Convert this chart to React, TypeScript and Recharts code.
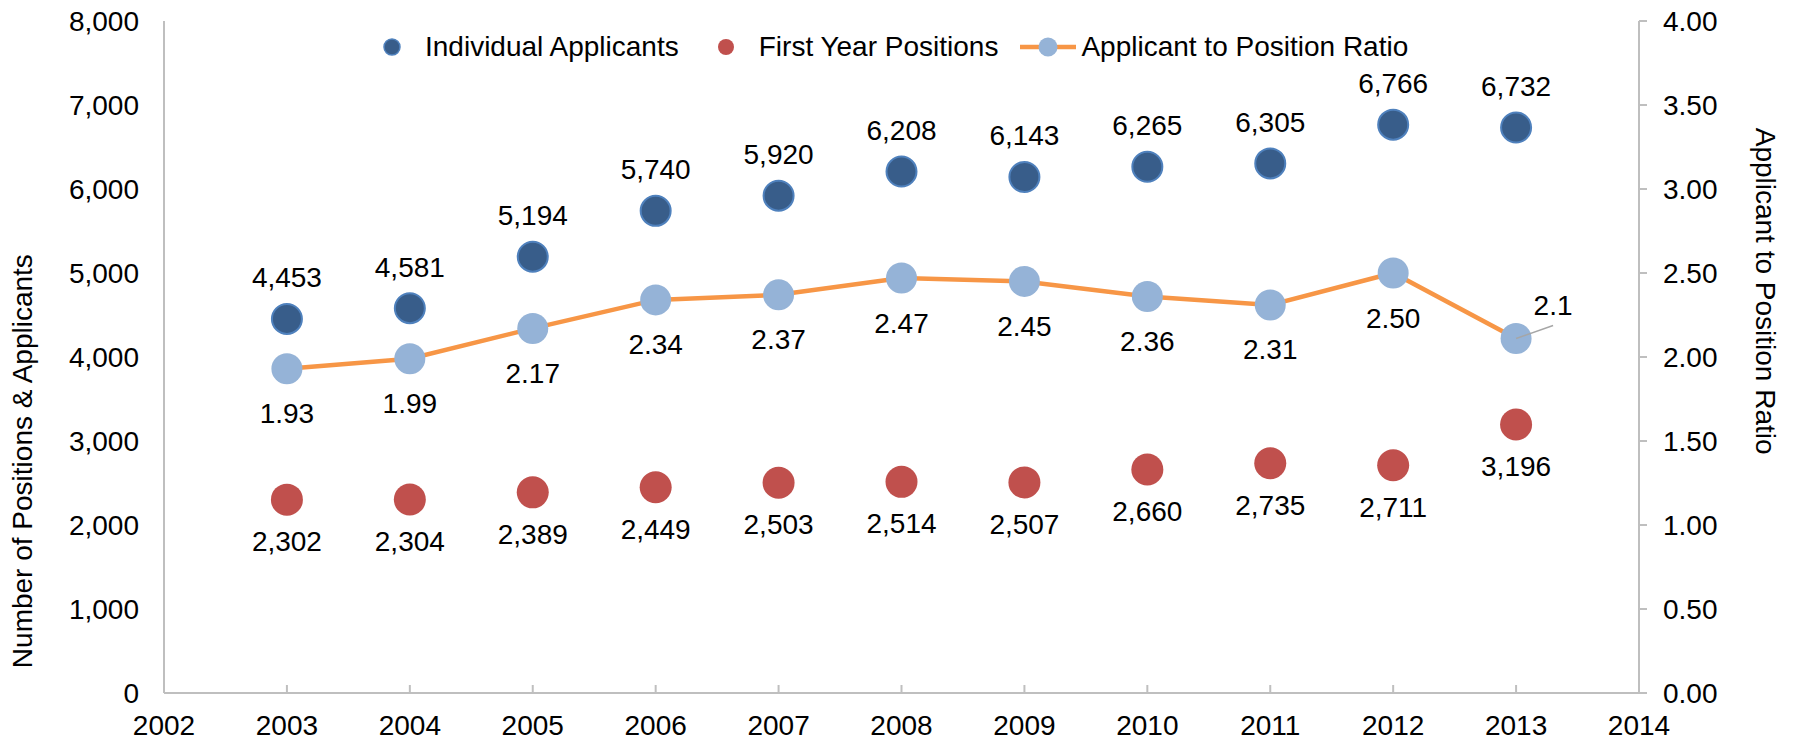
import { ComposedChart, Line, XAxis, YAxis, Legend, LabelList } from "recharts";

const years = [2003, 2004, 2005, 2006, 2007, 2008, 2009, 2010, 2011, 2012, 2013];
const applicants = [4453, 4581, 5194, 5740, 5920, 6208, 6143, 6265, 6305, 6766, 6732];
const positions = [2302, 2304, 2389, 2449, 2503, 2514, 2507, 2660, 2735, 2711, 3196];
const ratio = [1.93, 1.99, 2.17, 2.34, 2.37, 2.47, 2.45, 2.36, 2.31, 2.5, 2.11];
const ratioLabels = ["1.93", "1.99", "2.17", "2.34", "2.37", "2.47", "2.45", "2.36", "2.31", "2.50", "2.1"];

const yearTicks = [2002, 2003, 2004, 2005, 2006, 2007, 2008, 2009, 2010, 2011, 2012, 2013, 2014];
const countTicks = [0, 1000, 2000, 3000, 4000, 5000, 6000, 7000, 8000];
const ratioTicks = [0, 0.5, 1, 1.5, 2, 2.5, 3, 3.5, 4];

const FONT = '"Liberation Sans", Arial, sans-serif';
const FS = 28;
const AXIS = "#BFBFBF";
const BLUE = "#385D8A";
const BLUE_EDGE = "#4F81BD";
const RED = "#C0504D";
const LIGHT = "#95B3D7";
const ORANGE = "#F79646";
const X_TICK = 8;
const X_GAP = 14;

const data = years.map((year, i) => ({
  year,
  applicants: applicants[i],
  positions: positions[i],
  ratio: ratio[i],
}));

// x labels sit below the axis, tick marks point up into the plot
function YearTick(props: any) {
  const { x, y, payload } = props;
  const inner = payload.value > yearTicks[0] && payload.value < yearTicks[yearTicks.length - 1];
  const axisY = y - X_TICK - X_GAP;
  return (
    <g>
      {inner && <line x1={x} x2={x} y1={axisY} y2={axisY - X_TICK} stroke={AXIS} strokeWidth={2} />}
      <text x={x} y={y} dy="0.71em" textAnchor="middle" fontSize={FS} fill="#000">
        {payload.value}
      </text>
    </g>
  );
}

function LeftTitle(props: any) {
  const { x, y, height } = props.viewBox;
  const cx = x + 23;
  const cy = y + height * 0.655;
  return (
    <text x={cx} y={cy} transform={`rotate(-90 ${cx} ${cy})`} textAnchor="middle" dominantBaseline="central" fontSize={FS} fill="#000">
      Number of Positions &amp; Applicants
    </text>
  );
}

function RightTitle(props: any) {
  const { x, y, width, height } = props.viewBox;
  const cx = x + width - 28;
  const cy = y + height * 0.402;
  return (
    <text x={cx} y={cy} transform={`rotate(90 ${cx} ${cy})`} textAnchor="middle" dominantBaseline="central" fontSize={FS} fill="#000">
      Applicant to Position Ratio
    </text>
  );
}

const aboveLabel = (props: any) => {
  const { x, y, value } = props;
  return (
    <text x={x} y={y - 41} textAnchor="middle" dominantBaseline="central" fontSize={FS} fill="#000">
      {Number(value).toLocaleString("en-US")}
    </text>
  );
};

const belowLabel = (props: any) => {
  const { x, y, value } = props;
  return (
    <text x={x} y={y + 42} textAnchor="middle" dominantBaseline="central" fontSize={FS} fill="#000">
      {Number(value).toLocaleString("en-US")}
    </text>
  );
};

const ratioLabel = (props: any) => {
  const { x, y, index } = props;
  const text = ratioLabels[index];
  if (index === ratioLabels.length - 1) {
    // last point gets a call-out up and to the right
    return (
      <g>
        <line x1={x} y1={y} x2={x + 37} y2={y - 13} stroke="#A6A6A6" strokeWidth={1.5} />
        <text x={x + 37} y={y - 33} textAnchor="middle" dominantBaseline="central" fontSize={FS} fill="#000">
          {text}
        </text>
      </g>
    );
  }
  return (
    <text x={x} y={y + 45} textAnchor="middle" dominantBaseline="central" fontSize={FS} fill="#000">
      {text}
    </text>
  );
};

function LegendRow() {
  const item = (symbol: any, label: string, gapAfter: number) => (
    <div style={{ display: "flex", alignItems: "center", marginRight: gapAfter }}>
      <svg width={56} height={24}>{symbol}</svg>
      <span style={{ marginLeft: 5, fontSize: FS, lineHeight: "30px", color: "#000", whiteSpace: "nowrap" }}>{label}</span>
    </div>
  );
  return (
    <div style={{ display: "flex", alignItems: "center", paddingLeft: 364, fontFamily: FONT }}>
      {item(<circle cx={28} cy={12} r={8} fill={BLUE} stroke={BLUE_EDGE} strokeWidth={1.5} />, "Individual Applicants", 19)}
      {item(<circle cx={28} cy={12} r={8} fill={RED} />, "First Year Positions", 22)}
      {item(
        <g>
          <line x1={0} x2={56} y1={12} y2={12} stroke={ORANGE} strokeWidth={4.5} />
          <circle cx={28} cy={12} r={9.5} fill={LIGHT} />
        </g>,
        "Applicant to Position Ratio",
        0
      )}
    </div>
  );
}

export default function App() {
  return (
    <div style={{ width: 1793, height: 741, background: "#fff" }}>
      <style>{`body{margin:0}`}</style>
      <ComposedChart
        width={1793}
        height={741}
        data={data}
        margin={{ top: 21, right: 0, bottom: 0, left: 0 }}
        style={{ fontFamily: FONT }}
      >
        <XAxis
          dataKey="year"
          type="number"
          domain={[2002, 2014]}
          ticks={yearTicks}
          interval={0}
          height={48}
          tickSize={X_TICK}
          tickMargin={X_GAP}
          tickLine={false}
          axisLine={{ stroke: AXIS, strokeWidth: 2 }}
          tick={<YearTick />}
        />
        <YAxis
          yAxisId="left"
          width={164}
          domain={[0, 8000]}
          ticks={countTicks}
          interval={0}
          tickSize={8}
          tickMargin={17}
          tickLine={false}
          axisLine={{ stroke: AXIS, strokeWidth: 2 }}
          tick={{ fill: "#000", fontSize: FS }}
          tickFormatter={(v: number) => v.toLocaleString("en-US")}
          label={{ content: LeftTitle }}
        />
        <YAxis
          yAxisId="right"
          orientation="right"
          width={154}
          domain={[0, 4]}
          ticks={ratioTicks}
          interval={0}
          tickSize={8}
          tickMargin={16}
          tickLine={{ stroke: AXIS, strokeWidth: 2 }}
          axisLine={{ stroke: AXIS, strokeWidth: 2 }}
          tick={{ fill: "#000", fontSize: FS, textAnchor: "start" }}
          tickFormatter={(v: number) => v.toFixed(2)}
          label={{ content: RightTitle }}
        />
        <Legend
          layout="horizontal"
          verticalAlign="middle"
          align="center"
          wrapperStyle={{ top: 32, left: 0, width: 1793 }}
          content={() => <LegendRow />}
        />
        <Line
          yAxisId="left"
          dataKey="applicants"
          name="Individual Applicants"
          stroke="none"
          dot={{ r: 15, fill: BLUE, stroke: BLUE_EDGE, strokeWidth: 2 }}
          activeDot={false}
          isAnimationActive={false}
        >
          <LabelList dataKey="applicants" content={aboveLabel} />
        </Line>
        <Line
          yAxisId="left"
          dataKey="positions"
          name="First Year Positions"
          stroke="none"
          dot={{ r: 16, fill: RED, stroke: "none" }}
          activeDot={false}
          isAnimationActive={false}
        >
          <LabelList dataKey="positions" content={belowLabel} />
        </Line>
        <Line
          yAxisId="right"
          dataKey="ratio"
          name="Applicant to Position Ratio"
          stroke={ORANGE}
          strokeWidth={4.5}
          dot={{ r: 15.5, fill: LIGHT, stroke: "none" }}
          activeDot={false}
          isAnimationActive={false}
        >
          <LabelList dataKey="ratio" content={ratioLabel} />
        </Line>
      </ComposedChart>
    </div>
  );
}
